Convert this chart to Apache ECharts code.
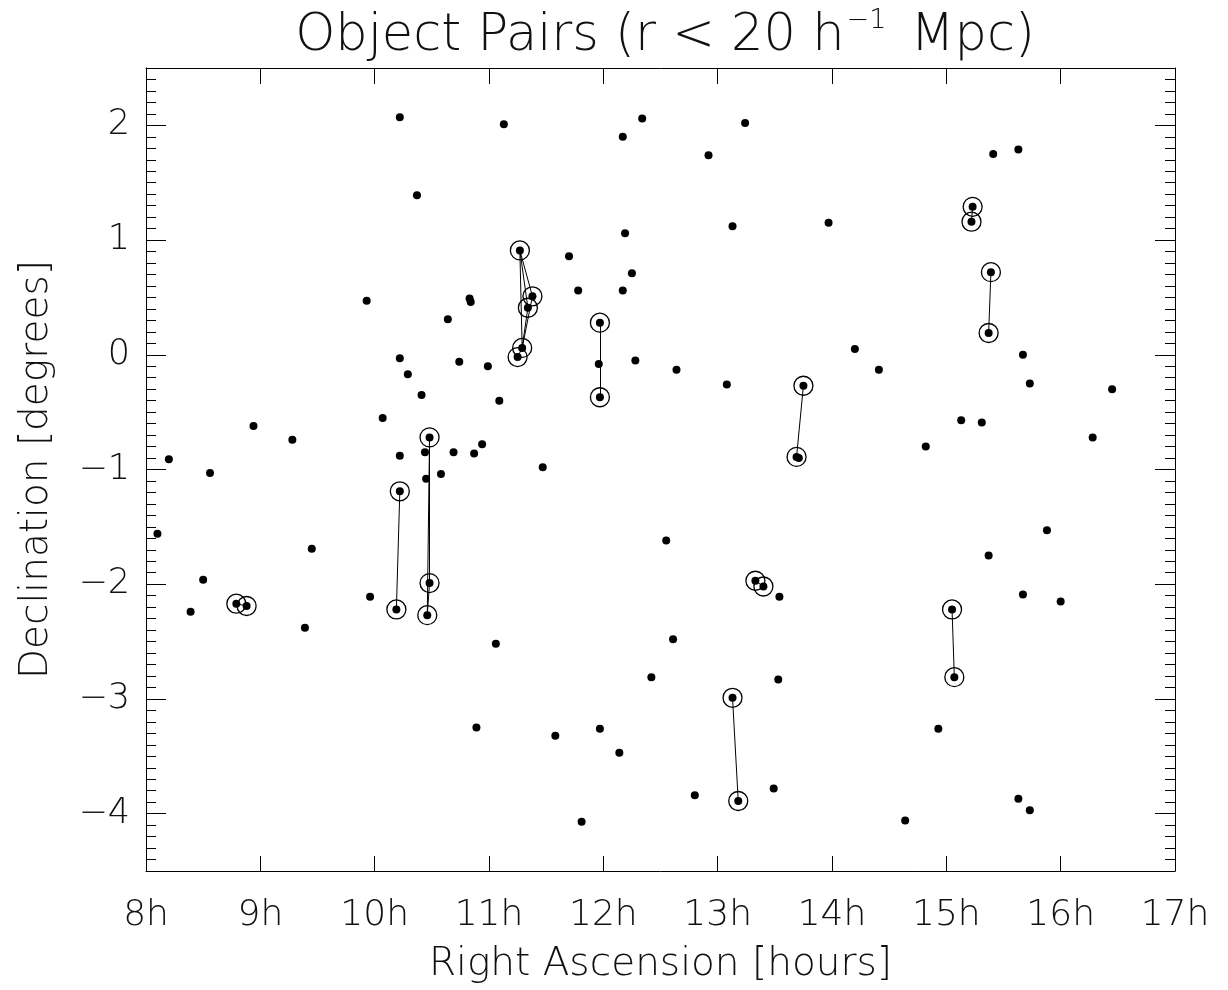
<!DOCTYPE html>
<html>
<head>
<meta charset="utf-8">
<script src="https://cdn.jsdelivr.net/npm/echarts@6/dist/echarts.min.js"></script>
<style>
html,body{margin:0;padding:0;background:#fff;}
#chart{width:1228px;height:990px;}
</style>
</head>
<body>
<div id="chart"></div>
<script>
// Unpaired objects: right ascension [h] and declination [deg]
const raDots = [
  10.22, 10.37, 9.93, 10.83, 10.84, 10.64, 10.22, 10.74, 10.99, 10.29,
  10.41, 10.07, 8.94, 9.28, 10.22, 10.44, 10.69, 10.87, 10.94, 8.20,
  8.56, 10.58, 10.45, 8.10, 9.45, 8.50, 8.39, 9.96, 9.39, 10.89,
  11.13, 12.34, 12.17, 13.24, 12.92, 13.97, 13.13, 12.19, 11.70, 12.25,
  11.78, 12.17, 11.96, 12.28, 12.64, 13.08, 13.71, 11.09, 11.47, 12.55,
  13.54, 11.06, 12.61, 12.42, 13.53, 11.58, 11.97, 12.14, 12.80, 13.49,
  11.81,
  15.41, 15.63, 14.20, 14.41, 15.67, 15.73, 16.45, 15.13, 15.31, 14.82,
  16.28, 15.88, 15.37, 15.67, 16.00, 14.93, 15.63, 15.73, 14.64
];
const decDots = [
  2.07, 1.39, 0.47, 0.49, 0.46, 0.31, -0.03, -0.06, -0.10, -0.17,
  -0.35, -0.55, -0.62, -0.74, -0.88, -0.85, -0.85, -0.86, -0.78, -0.91,
  -1.03, -1.04, -1.08, -1.56, -1.69, -1.96, -2.24, -2.11, -2.38, -3.25,
  2.01, 2.06, 1.90, 2.02, 1.74, 1.15, 1.12, 1.06, 0.86, 0.71,
  0.56, 0.56, -0.08, -0.05, -0.13, -0.26, -0.90, -0.40, -0.98, -1.62,
  -2.11, -2.52, -2.48, -2.81, -2.83, -3.32, -3.26, -3.47, -3.84, -3.78,
  -4.07,
  1.75, 1.79, 0.05, -0.13, 0.00, -0.25, -0.30, -0.57, -0.59, -0.80,
  -0.72, -1.53, -1.75, -2.09, -2.15, -3.26, -3.87, -3.97, -4.06
];
// Paired (circled) objects
const raPair = [
  8.79, 8.88, 10.22, 10.19, 10.48, 10.48, 10.46, 11.27, 11.38, 11.34,
  11.29, 11.25, 11.97, 11.97, 13.75, 13.69, 13.33, 13.40, 13.13, 13.18,
  15.23, 15.22, 15.39, 15.37, 15.05, 15.07
];
const decPair = [
  -2.17, -2.19, -1.19, -2.22, -0.72, -1.99, -2.27, 0.91, 0.51, 0.41,
  0.06, -0.02, 0.28, -0.37, -0.27, -0.89, -1.97, -2.02, -2.99, -3.89,
  1.29, 1.16, 0.72, 0.19, -2.22, -2.81
];
// Links between paired objects (indices into the pair arrays)
const pairLinks = [
  [0,1],[2,3],[4,5],[4,6],[5,6],[7,8],[7,9],[7,10],[8,10],[9,10],[10,11],
  [12,13],[14,15],[16,17],[18,19],[20,21],[22,23],[24,25]
];
// Tick labels
const yMajorTicks = [-4, -3, -2, -1, 0, 1, 2];
const hourSuffix = 'h';
const titleMain = 'Object Pairs (r < 20 h';
const titleSup = '\u22121';
const titleEnd = ' Mpc)';
const xName = 'Right Ascension [hours]';
const yName = 'Declination [degrees]';

const FONT = 'DejaVu Sans';
const TXT = '#111';
const AX = '#000';

const yMinorTicks = [];
for (let i = -45; i <= 25; i++) { if (i % 10 !== 0) yMinorTicks.push(i / 10); }

const dotData = raDots.map((r, i) => [r, decDots[i]]);
const pairData = raPair.map((r, i) => [r, decPair[i]]);
const linkData = pairLinks.map(([a, b]) => ({ coords: [pairData[a], pairData[b]] }));

function yAx(pos, ticks, len, labels, line) {
  return {
    type: 'value', position: pos, min: -4.5, max: 2.5,
    splitLine: { show: false },
    axisLine: { show: line, lineStyle: { color: AX, width: 1 } },
    axisTick: { show: true, inside: true, length: len, customValues: ticks, lineStyle: { color: AX, width: 1 } },
    axisLabel: labels ? {
      show: true, customValues: ticks, margin: 16,
      fontFamily: FONT, fontWeight: 200, fontSize: 35, color: TXT,
      formatter: v => (v < 0 ? '\u2212' + Math.abs(v) : String(v))
    } : { show: false },
    name: labels ? yName : '',
    nameLocation: 'middle', nameRotate: 90, nameGap: 90,
    nameTextStyle: { fontFamily: FONT, fontWeight: 200, fontSize: 39, color: TXT }
  };
}

const chart = echarts.init(document.getElementById('chart'), null, { renderer: 'canvas' });
chart.setOption({
  animation: false,
  backgroundColor: '#fff',
  title: {
    text: '{m|' + titleMain + '}{s|' + titleSup + '}{m|' + titleEnd + '}',
    left: 660, textAlign: 'center', top: 2,
    textStyle: {
      rich: {
        m: { fontFamily: FONT, fontWeight: 200, fontSize: 51, color: TXT, lineHeight: 60 },
        s: { fontFamily: FONT, fontWeight: 200, fontSize: 27, color: TXT, verticalAlign: 'top', lineHeight: 60, padding: [0, 8, 22, 2] }
      }
    }
  },
  grid: { left: 146, right: 53, top: 68, bottom: 119, containLabel: false },
  xAxis: [
    {
      type: 'value', position: 'bottom', min: 8, max: 17, interval: 1,
      splitLine: { show: false },
      axisLine: { show: true, onZero: false, lineStyle: { color: AX, width: 1 } },
      axisTick: { show: true, inside: true, length: 15, lineStyle: { color: AX, width: 1 } },
      axisLabel: { show: true, margin: 27, fontFamily: FONT, fontWeight: 200, fontSize: 36, color: TXT,
                   formatter: v => v + hourSuffix },
      name: xName, nameLocation: 'middle', nameGap: 74,
      nameTextStyle: { fontFamily: FONT, fontWeight: 200, fontSize: 39, color: TXT }
    },
    {
      type: 'value', position: 'top', min: 8, max: 17, interval: 1,
      splitLine: { show: false },
      axisLine: { show: true, onZero: false, lineStyle: { color: AX, width: 1 } },
      axisTick: { show: true, inside: true, length: 16, lineStyle: { color: AX, width: 1 } },
      axisLabel: { show: false }
    }
  ],
  yAxis: [
    yAx('left', yMajorTicks, 20, true, true),
    yAx('left', yMinorTicks, 10, false, false),
    yAx('right', yMajorTicks, 20, false, true),
    yAx('right', yMinorTicks, 10, false, false)
  ],
  series: [
    {
      type: 'lines', coordinateSystem: 'cartesian2d', xAxisIndex: 0, yAxisIndex: 0,
      data: linkData, silent: true,
      lineStyle: { color: '#000', width: 1, opacity: 1 }, z: 2
    },
    {
      type: 'scatter', xAxisIndex: 0, yAxisIndex: 0, data: dotData,
      symbol: 'circle', symbolSize: 8, itemStyle: { color: '#000', opacity: 1 }, z: 3
    },
    {
      type: 'scatter', xAxisIndex: 0, yAxisIndex: 0, data: pairData,
      symbol: 'circle', symbolSize: 8, itemStyle: { color: '#000', opacity: 1 }, z: 3
    },
    {
      type: 'scatter', xAxisIndex: 0, yAxisIndex: 0, data: pairData,
      symbol: 'circle', symbolSize: 19,
      itemStyle: { color: 'rgba(0,0,0,0)', borderColor: '#000', borderWidth: 1.3, opacity: 1 }, z: 4
    }
  ]
});
</script>
</body>
</html>
